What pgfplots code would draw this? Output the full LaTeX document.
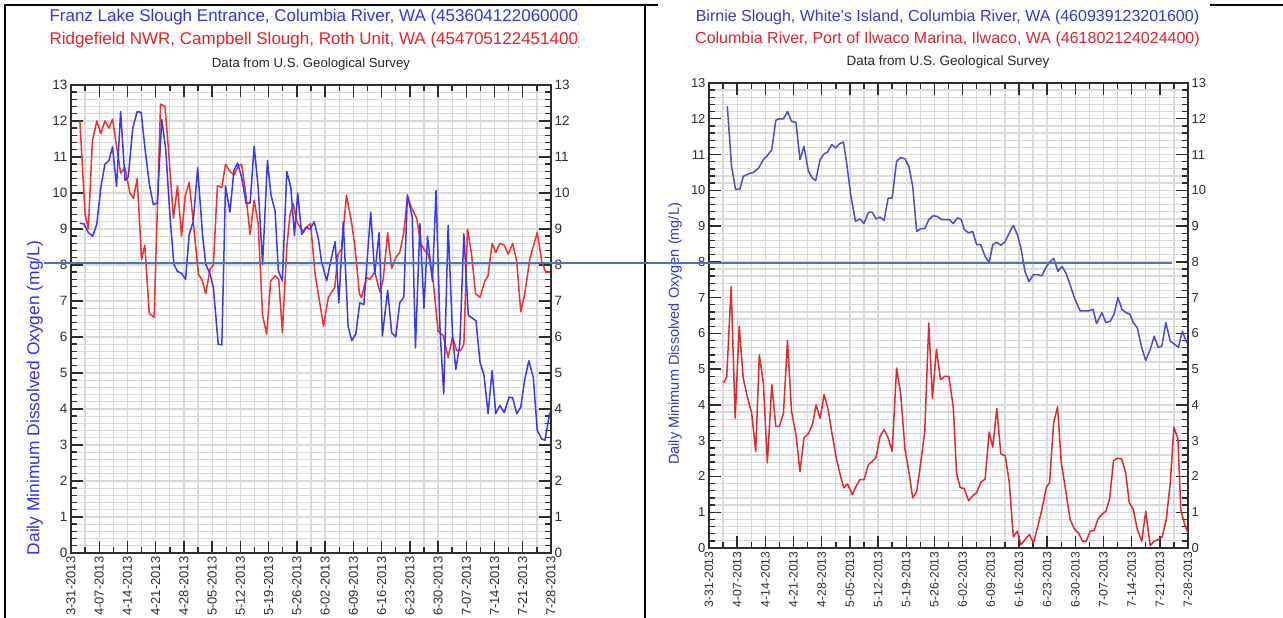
\documentclass[border=0pt]{standalone}
\usepackage{pgfplots}
\pgfplotsset{compat=1.18}
\usepackage{fontspec}
\setmainfont{Liberation Sans}
\definecolor{lblue}{RGB}{55,55,245}
\definecolor{lred}{RGB}{245,45,45}
\definecolor{rblue}{RGB}{75,75,205}
\definecolor{rred}{RGB}{225,40,45}
\definecolor{tblue}{RGB}{50,50,235}
\definecolor{tred}{RGB}{235,30,35}
\definecolor{rtblue}{RGB}{55,55,200}
\definecolor{rtred}{RGB}{220,35,45}
\definecolor{refline}{RGB}{70,120,185}
\definecolor{gridc}{RGB}{218,218,218}
\definecolor{axc}{RGB}{45,45,45}
\pgfplotsset{
  panel/.style={
    scale only axis, anchor=south west,
    xmin=0, xmax=119, ymin=0, ymax=13,
    xtick={0,7,...,119}, minor xtick={3.5,10.5,...,115.5},
    ytick={0,1,...,13}, minor y tick num=4,
    grid=both,
    major grid style={draw=gridc, line width=1.3pt},
    minor grid style={draw=gridc, line width=1.3pt},
    tick align=inside,
    major tick length=12pt, minor tick length=6pt,
    every tick/.style={draw=axc, line width=1.4pt},
    axis line style={draw=axc, line width=1.6pt},
    xticklabels={3-31-2013,4-07-2013,4-14-2013,4-21-2013,4-28-2013,5-05-2013,5-12-2013,5-19-2013,5-26-2013,6-02-2013,6-09-2013,6-16-2013,6-23-2013,6-30-2013,7-07-2013,7-14-2013,7-21-2013,7-28-2013},
    /pgf/number format/assume math mode=true,
    every axis plot/.append style={line width=1.5pt, line join=round},
  },
  overlay/.style={
    scale only axis, anchor=south west,
    xmin=0, xmax=119, ymin=0, ymax=13,
    hide x axis, axis y line*=right,
    ytick={0,1,...,13}, minor y tick num=0,
    major tick length=0pt,
    axis line style={draw=none},
    /pgf/number format/assume math mode=true,
  }
}
\begin{document}
\begin{tikzpicture}[x=1pt,y=1pt]
\useasboundingbox (0,0) rectangle (1283,618);
% table borders
\draw[line width=2.5pt] (5,0) -- (5,613) -- (658,613);
\draw[line width=2.5pt] (1210,613) -- (1283,613);
\draw[line width=2.5pt] (645,0) -- (645,613);

% ---------------- left panel ----------------
\begin{scope}
\clip (0,0) rectangle (578,618);
\node[anchor=west, text=tblue, font=\fontsize{17}{19}\selectfont] at (46,601) {Franz Lake Slough Entrance, Columbia River, WA (453604122060000)};
\node[anchor=west, text=tred, font=\fontsize{17}{19}\selectfont] at (46,578) {Ridgefield NWR, Campbell Slough, Roth Unit, WA (454705122451400)};
\end{scope}
\node[text=black!85, font=\fontsize{13.2}{15}\selectfont] at (311,554) {Data from U.S. Geological Survey};
\node[rotate=90, text=tblue, font=\fontsize{17.4}{19}\selectfont] at (35,220) {Daily Minimum Dissolved Oxygen (mg/L)};

\begin{axis}[panel, at={(71pt,65pt)}, width=480pt, height=468pt,
  xticklabel style={rotate=90, anchor=east, font=\fontsize{13}{14}\selectfont, text=axc},
  yticklabel style={font=\fontsize{13.5}{15}\selectfont, text=axc}]
\addplot[lred] coordinates {
(2.2,12.0)(3.5,9.4)(4.3,9.0)(5.3,11.45)(6.4,12.0)(7.4,11.65)(8.4,12.0)(9.4,11.8)(10.3,12.05)
(11.3,11.3)(12.3,10.55)(13.4,10.7)(14.0,10.35)(14.6,10.0)(15.5,9.85)(16.4,10.4)(17.5,8.15)
(18.3,8.55)(19.4,6.65)(20.6,6.55)(22.2,12.47)(23.3,12.4)(24.1,11.3)(25.4,9.3)(26.4,10.2)
(27.4,8.8)(28.3,9.9)(29.3,10.3)(30.3,9.2)(31.6,7.75)(32.6,7.55)(33.4,7.2)(34.5,7.9)(35.3,8.0)
(36.3,10.2)(37.4,10.15)(38.3,10.8)(39.4,10.6)(40.4,10.5)(41.5,10.75)(42.3,10.8)(43.3,10.0)
(44.4,8.85)(45.4,9.8)(46.4,9.15)(47.5,6.6)(48.5,6.08)(49.5,7.55)(50.6,7.7)(51.5,7.6)(52.4,6.12)
(53.5,8.5)(54.3,9.4)(55.1,9.7)(56.0,9.2)(56.8,9.05)(57.6,8.9)(58.4,9.05)(59.4,9.15)(60.5,7.75)
(61.6,7.0)(62.6,6.3)(63.8,7.1)(65.4,7.38)(66.2,8.3)(67.1,8.45)(68.3,9.94)(69.6,9.15)(70.4,8.5)
(71.5,7.2)(72.0,7.1)(73.3,7.65)(74.1,7.6)(75.3,7.8)(76.6,7.25)(77.4,7.6)(78.5,8.9)(79.5,7.9)
(80.5,8.2)(81.5,8.35)(82.5,8.9)(83.4,9.9)(84.4,9.6)(85.7,9.3)(86.7,8.6)(87.7,8.4)(88.6,8.3)
(89.8,7.55)(91.0,6.17)(92.3,6.03)(93.5,5.43)(94.6,6.0)(95.6,5.62)(96.6,5.62)(97.4,5.8)(98.3,9.0)
(99.3,8.3)(100.3,7.2)(101.4,7.1)(102.6,7.55)(103.4,7.7)(104.4,8.6)(105.3,8.35)(106.3,8.6)
(107.4,8.55)(108.4,8.3)(109.5,8.6)(110.5,8.1)(111.5,6.7)(112.5,7.2)(113.8,8.2)(115.6,8.9)
(116.7,8.1)(117.7,7.8)(118.7,7.8)
};
\addplot[lblue] coordinates {
(2.2,9.16)(3.2,9.14)(4.3,8.9)(5.4,8.8)(6.4,9.14)(7.4,10.16)(8.4,10.8)(9.4,10.9)(10.3,11.28)
(11.3,10.18)(12.3,12.26)(13.4,10.35)(14.2,10.44)(15.3,11.8)(16.4,12.26)(17.4,12.24)(18.3,11.28)
(19.4,10.26)(20.4,9.68)(21.4,9.72)(22.5,12.04)(23.5,11.19)(24.5,9.42)(25.5,8.02)(26.4,7.82)
(27.4,7.77)(28.4,7.6)(29.3,8.85)(30.3,9.2)(31.4,10.7)(32.6,8.85)(33.4,8.02)(34.5,7.74)(35.3,7.37)
(36.5,5.8)(37.4,5.78)(38.3,10.2)(39.4,9.47)(40.4,10.63)(41.3,10.83)(42.3,10.44)(43.4,9.72)
(44.4,9.72)(45.4,11.3)(46.4,10.16)(47.5,8.02)(48.7,10.9)(49.6,9.93)(50.6,9.5)(51.4,7.84)
(52.4,7.56)(53.5,10.6)(54.5,10.15)(55.4,8.82)(56.2,10.0)(57.2,8.85)(58.2,9.05)(59.3,9.0)
(60.3,9.2)(61.3,8.75)(62.1,8.1)(63.4,7.56)(64.4,8.12)(65.5,8.65)(66.4,6.95)(67.5,9.2)(68.7,6.3)
(69.6,5.9)(70.6,6.08)(71.6,6.95)(72.6,6.9)(74.3,9.47)(75.3,7.75)(76.4,8.9)(77.2,6.03)(78.5,7.3)
(79.5,6.12)(80.5,6.0)(81.5,6.95)(82.5,7.1)(83.4,9.95)(84.6,9.33)(85.4,5.7)(86.5,9.15)(87.5,6.8)
(88.4,8.8)(89.6,7.55)(90.5,10.07)(91.5,6.17)(92.4,4.42)(93.5,9.1)(94.6,6.03)(95.4,5.1)(96.4,5.8)
(97.4,8.87)(98.5,6.6)(99.3,6.54)(100.4,6.45)(101.4,5.3)(102.4,4.93)(103.4,3.87)(104.4,5.07)
(105.3,3.87)(106.3,4.1)(107.4,3.9)(108.6,4.33)(109.5,4.31)(110.5,3.87)(111.5,4.05)(112.5,4.83)
(113.5,5.34)(114.6,4.88)(115.6,3.4)(116.7,3.17)(117.5,3.13)(118.7,3.9)
};
\end{axis}
\begin{axis}[overlay, at={(71pt,65pt)}, width=480pt, height=468pt,
  yticklabel style={font=\fontsize{13.5}{15}\selectfont, text=axc}]
\end{axis}

% ---------------- right panel ----------------
\node[text=rtblue, font=\fontsize{16}{18}\selectfont] at (947.5,601) {Birnie Slough, White's Island, Columbia River, WA (460939123201600)};
\node[text=rtred, font=\fontsize{16}{18}\selectfont] at (947.5,579) {Columbia River, Port of Ilwaco Marina, Ilwaco, WA (461802124024400)};
\node[text=black!85, font=\fontsize{13.5}{15}\selectfont] at (948,556) {Data from U.S. Geological Survey};
\node[rotate=90, text=rtblue, font=\fontsize{14.5}{16}\selectfont] at (675,284) {Daily Minimum Dissolved Oxygen (mg/L)};

\begin{axis}[panel, at={(709pt,70pt)}, width=479pt, height=465pt,
  xticklabel style={rotate=90, anchor=east, font=\fontsize{12.2}{13}\selectfont, text=axc},
  yticklabel style={font=\fontsize{13}{14}\selectfont, text=axc}]
\addplot[rblue] coordinates {
(4.55,12.35)(5.6,10.67)(6.6,10.02)(7.7,10.04)(8.5,10.39)(9.8,10.46)(11.0,10.5)(12.3,10.62)
(13.5,10.86)(14.5,10.97)(15.6,11.14)(16.6,11.96)(17.5,12.0)(18.5,12.0)(19.5,12.2)(20.5,11.93)
(21.6,11.9)(22.6,10.86)(23.6,11.23)(24.7,10.53)(25.7,10.34)(26.5,10.27)(27.6,10.86)(28.6,11.02)
(29.4,11.06)(30.5,11.28)(31.5,11.18)(32.4,11.3)(33.4,11.35)(34.2,10.76)(35.2,9.88)(36.4,9.13)
(37.5,9.2)(38.5,9.07)(39.6,9.38)(40.6,9.38)(41.5,9.2)(42.5,9.25)(43.5,9.16)(44.5,9.78)(45.5,9.78)
(46.6,10.81)(47.6,10.92)(48.7,10.88)(49.7,10.65)(50.6,10.11)(51.6,8.85)(52.6,8.93)(53.6,8.93)
(54.6,9.18)(55.7,9.29)(56.7,9.27)(57.8,9.18)(58.8,9.18)(59.7,9.18)(60.7,9.07)(61.7,9.23)
(62.7,9.18)(63.4,8.9)(64.5,8.81)(65.5,8.85)(66.5,8.48)(67.5,8.48)(68.6,8.15)(69.6,7.98)
(70.5,8.48)(71.5,8.55)(72.5,8.46)(73.6,8.57)(74.6,8.81)(75.6,9.02)(76.6,8.76)(77.5,8.38)
(78.5,7.73)(79.5,7.45)(80.6,7.64)(81.7,7.64)(82.7,7.61)(83.8,7.87)(84.8,8.01)(85.6,8.1)
(86.7,7.73)(87.7,7.87)(88.7,7.68)(89.7,7.36)(90.8,6.99)(92.2,6.63)(93.2,6.63)(94.3,6.63)
(95.4,6.67)(96.3,6.27)(97.6,6.58)(98.6,6.3)(99.7,6.34)(100.6,6.53)(101.6,7.0)(102.6,6.67)
(103.6,6.58)(104.6,6.53)(105.4,6.3)(106.4,6.16)(107.5,5.6)(108.5,5.24)(109.6,5.55)(110.6,5.92)
(111.6,5.61)(112.5,5.64)(113.5,6.3)(114.6,5.78)(115.6,5.7)(116.6,5.61)(117.6,6.06)(118.7,5.73)
};
\addplot[rred] coordinates {
(3.6,4.61)(4.4,4.78)(5.5,7.3)(6.5,3.63)(7.5,6.2)(8.5,4.75)(9.5,4.24)(10.6,3.77)(11.6,2.7)
(12.5,5.4)(13.5,4.61)(14.5,2.38)(15.6,4.57)(16.6,3.4)(17.5,3.4)(18.5,3.77)(19.5,5.8)(20.5,3.82)
(21.6,3.17)(22.6,2.14)(23.6,3.08)(24.7,3.2)(25.7,3.45)(26.6,4.0)(27.6,3.63)(28.6,4.29)(29.6,3.87)
(30.6,3.17)(31.7,2.47)(32.7,2.0)(33.5,1.68)(34.4,1.79)(35.6,1.49)(36.5,1.72)(37.5,1.91)(38.5,1.91)
(39.6,2.33)(40.6,2.42)(41.5,2.54)(42.5,3.12)(43.5,3.31)(44.5,3.08)(45.5,2.7)(46.6,5.03)(47.6,4.33)
(48.7,2.75)(49.7,2.1)(50.6,1.4)(51.6,1.58)(52.6,2.38)(53.6,3.26)(54.6,6.29)(55.5,4.19)(56.5,5.56)
(57.5,4.71)(58.6,4.8)(59.6,4.8)(60.7,3.91)(61.5,2.1)(62.4,1.69)(63.4,1.66)(64.5,1.32)(65.5,1.46)
(66.5,1.55)(67.5,1.83)(68.6,1.93)(69.6,3.24)(70.5,2.82)(71.5,3.9)(72.5,2.63)(73.6,2.58)(74.6,1.83)
(75.6,0.31)(76.6,0.47)(77.5,0.09)(78.5,0.23)(79.6,0.38)(80.6,0.14)(81.7,0.61)(82.7,1.08)
(83.8,1.69)(84.6,1.83)(85.6,3.48)(86.6,3.95)(87.5,2.4)(88.7,1.55)(89.7,0.8)(90.8,0.52)(91.8,0.42)
(92.8,0.19)(93.7,0.19)(94.7,0.47)(95.7,0.49)(96.6,0.8)(97.6,0.94)(98.6,1.03)(99.5,1.36)
(100.5,2.44)(101.5,2.51)(102.5,2.49)(103.5,2.11)(104.4,1.27)(105.4,1.08)(106.4,0.52)(107.5,0.19)
(108.5,1.02)(109.6,0.07)(110.6,0.19)(111.6,0.23)(112.6,0.31)(113.6,0.8)(114.6,1.83)(115.5,3.38)
(116.5,3.05)(117.2,1.08)(118.3,0.61)(119.0,0.42)
};
\end{axis}
\begin{scope}
\clip (0,0) rectangle (1206,618);
\begin{axis}[overlay, at={(709pt,70pt)}, width=479pt, height=465pt, clip=false,
  yticklabel style={font=\fontsize{13}{14}\selectfont, text=axc}]
\draw[refline, line width=2pt] (axis cs:-165.2,7.97) -- (axis cs:115.0,7.97);
\end{axis}
\end{scope}
\end{tikzpicture}
\end{document}
